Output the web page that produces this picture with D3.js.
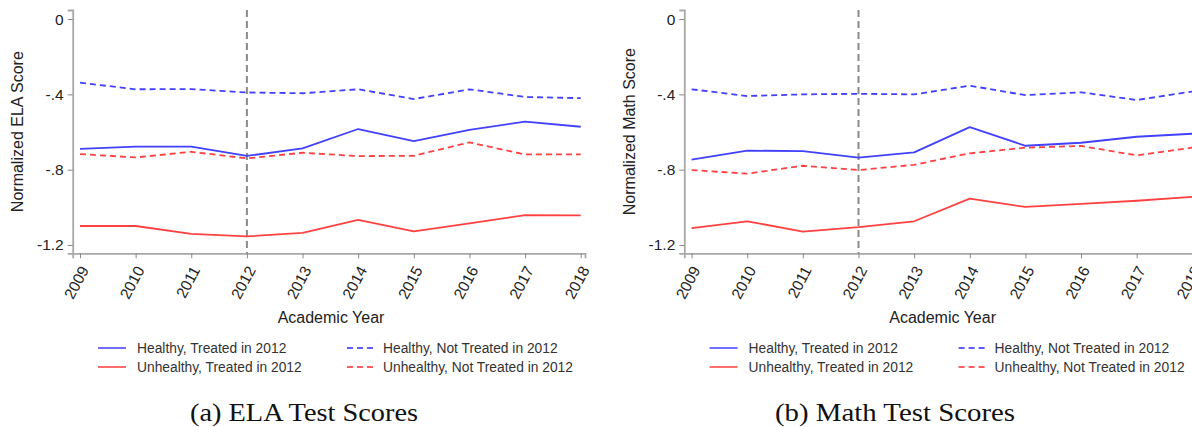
<!DOCTYPE html>
<html>
<head>
<meta charset="utf-8">
<script src="https://cdn.jsdelivr.net/npm/d3@7"></script>
<style>
  html, body { margin: 0; padding: 0; background: #fff; }
  svg { display: block; }
</style>
</head>
<body>
<svg id="chart" width="1192" height="427"></svg>
<script>
// ---- Data ----
const years = [2009, 2010, 2011, 2012, 2013, 2014, 2015, 2016, 2017, 2018];
const yTicks = [0, -0.4, -0.8, -1.2];
const yTickLabels = ["0", "-.4", "-.8", "-1.2"];
const treatYear = 2012;

const seriesNames = [
  "Healthy, Treated in 2012",
  "Unhealthy, Treated in 2012",
  "Healthy, Not Treated in 2012",
  "Unhealthy, Not Treated in 2012"
];

// ELA panel
const elaHealthyTreated    = [-0.689, -0.678, -0.678, -0.727, -0.687, -0.584, -0.648, -0.589, -0.545, -0.572];
const elaUnhealthyTreated  = [-1.099, -1.099, -1.141, -1.154, -1.136, -1.067, -1.127, -1.085, -1.041, -1.043];
const elaHealthyNot        = [-0.338, -0.373, -0.372, -0.390, -0.394, -0.373, -0.425, -0.373, -0.414, -0.420];
const elaUnhealthyNot      = [-0.717, -0.735, -0.705, -0.740, -0.710, -0.728, -0.726, -0.655, -0.719, -0.719];

// Math panel
const mathHealthyTreated   = [-0.747, -0.699, -0.701, -0.736, -0.708, -0.574, -0.673, -0.657, -0.625, -0.609];
const mathUnhealthyTreated = [-1.110, -1.074, -1.129, -1.105, -1.074, -0.954, -0.998, -0.981, -0.965, -0.944];
const mathHealthyNot       = [-0.373, -0.409, -0.400, -0.397, -0.400, -0.354, -0.404, -0.389, -0.430, -0.385];
const mathUnhealthyNot     = [-0.802, -0.821, -0.779, -0.802, -0.774, -0.713, -0.683, -0.674, -0.724, -0.683];

const yTitles = ["Normalized ELA Score", "Normalized Math Score"];
const xTitle = "Academic Year";
const captions = ["(a) ELA Test Scores", "(b) Math Test Scores"];

// ---- Styles ----
const SANS = "'Liberation Sans', Arial, sans-serif";
const SERIF = "'Liberation Serif', 'DejaVu Serif', serif";
const BLUE = "#4141ff", RED = "#ff4141";
const seriesStyle = [
  { color: BLUE, dash: null },
  { color: RED, dash: null },
  { color: BLUE, dash: "6,4" },
  { color: RED, dash: "6,4" }
];

const svg = d3.select("#chart");

const panels = [
  { dx: 0, title: yTitles[0], caption: captions[0], capX: 304, capW: 228,
    series: [elaHealthyTreated, elaUnhealthyTreated, elaHealthyNot, elaUnhealthyNot] },
  { dx: 611.6, title: yTitles[1], caption: captions[1], capX: 895, capW: 240,
    series: [mathHealthyTreated, mathUnhealthyTreated, mathHealthyNot, mathUnhealthyNot] }
];

// scales (per-panel, same geometry)
const x = d3.scaleLinear().domain([2008.869, 2018.077]).range([72.7, 585]);
const y = d3.scaleLinear().domain([-1.244, 0.048]).range([253.3, 10]);

panels.forEach(p => {
  const g = svg.append("g").attr("transform", `translate(${p.dx},0)`);

  // Y axis
  const yAxis = d3.axisLeft(y).tickValues(yTicks)
    .tickFormat((d, i) => yTickLabels[i]).tickSizeOuter(0).tickSize(5).tickPadding(4);
  const gy = g.append("g").attr("transform", `translate(${x.range()[0]},0)`).call(yAxis);
  gy.select(".domain").attr("stroke", "#a8a8a8").attr("stroke-width", 1.8);
  gy.selectAll(".tick line").attr("stroke", "#888").attr("stroke-width", 1);
  gy.selectAll(".tick text").attr("fill", "#222")
    .style("font-size", "15.5px").style("font-family", SANS);

  // X axis
  const xAxis = d3.axisBottom(x).tickValues(years).tickFormat(d3.format("d"))
    .tickSizeOuter(0).tickSize(5);
  const gx = g.append("g").attr("transform", `translate(0,${y.range()[0]})`).call(xAxis);
  gx.select(".domain").attr("stroke", "#a8a8a8").attr("stroke-width", 1.8);
  gx.selectAll(".tick line").attr("stroke", "#888").attr("stroke-width", 1);
  gx.selectAll(".tick text")
    .attr("fill", "#222")
    .style("font-size", "15.5px").style("font-family", SANS)
    .attr("text-anchor", "end")
    .attr("y", 0).attr("dy", "0.35em")
    .attr("transform", "translate(4,14) rotate(-62)");

  // treatment line
  g.append("line")
    .attr("x1", x(treatYear)).attr("x2", x(treatYear))
    .attr("y1", y.range()[1]).attr("y2", y.range()[0])
    .attr("stroke", "#8a8a8a").attr("stroke-width", 2)
    .attr("stroke-dasharray", "7,4");

  // series lines
  const line = d3.line().x((d, i) => x(years[i])).y(d => y(d));
  p.series.forEach((s, k) => {
    g.append("path").datum(s)
      .attr("d", line)
      .attr("fill", "none")
      .attr("stroke", seriesStyle[k].color)
      .attr("stroke-width", 1.8)
      .attr("stroke-dasharray", seriesStyle[k].dash)
      .attr("stroke-linejoin", "round");
  });

  // Y title
  g.append("text")
    .attr("transform", `translate(23,${(y.range()[0] + y.range()[1]) / 2}) rotate(-90)`)
    .attr("text-anchor", "middle")
    .style("font-size", "16px").style("font-family", SANS).attr("fill", "#222")
    .text(p.title);

  // X title
  g.append("text")
    .attr("x", 331).attr("y", 323)
    .attr("text-anchor", "middle")
    .style("font-size", "16px").style("font-family", SANS).attr("fill", "#222")
    .text(xTitle);

  // Legend
  const legPos = [
    { lx: 98, tx: 137, y: 348 },
    { lx: 98, tx: 137, y: 367 },
    { lx: 347, tx: 383, y: 348 },
    { lx: 347, tx: 383, y: 367 }
  ];
  seriesNames.forEach((name, k) => {
    const lp = legPos[k];
    g.append("line")
      .attr("x1", lp.lx).attr("x2", lp.lx + 28)
      .attr("y1", lp.y).attr("y2", lp.y)
      .attr("stroke", seriesStyle[k].color).attr("stroke-width", 1.8)
      .attr("stroke-opacity", 0.85)
      .attr("stroke-dasharray", seriesStyle[k].dash);
    g.append("text")
      .attr("x", lp.tx).attr("y", lp.y).attr("dy", "0.35em")
      .style("font-size", "13.8px").style("font-family", SANS).attr("fill", "#333")
      .text(name);
  });
});

// Captions (outside panel groups)
panels.forEach(p => {
  svg.append("text")
    .attr("x", p.capX).attr("y", 421)
    .attr("text-anchor", "middle")
    .style("font-family", SERIF)
    .style("font-size", "25px").attr("fill", "#111")
    .attr("textLength", p.capW).attr("lengthAdjust", "spacingAndGlyphs")
    .text(p.caption);
});
</script>
</body>
</html>
